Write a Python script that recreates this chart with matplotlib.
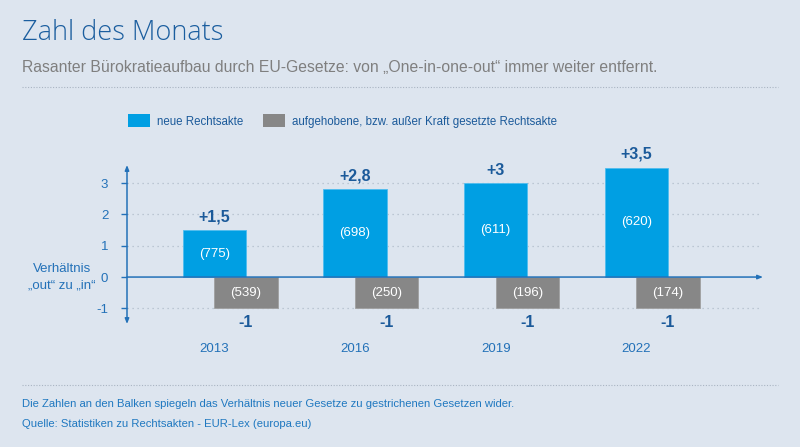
import matplotlib
matplotlib.use("Agg")
import matplotlib.pyplot as plt
from matplotlib.patches import Patch
from matplotlib.lines import Line2D

years = ["2013", "2016", "2019", "2022"]
ratio = [1.5, 2.8, 3.0, 3.5]
ratio_labels = ["+1,5", "+2,8", "+3", "+3,5"]
new_acts = [775, 698, 611, 620]
removed_val = [-1, -1, -1, -1]
removed_acts = [539, 250, 196, 174]
yticks = [-1, 0, 1, 2, 3]

BG = "#dde5ef"
BLUE = "#009fe3"
GRAY = "#878787"
DARK = "#1b5a9a"
MID = "#2371b8"
FONT = ["Liberation Sans", "DejaVu Sans"]
plt.rcParams["font.family"] = FONT

fig = plt.figure(figsize=(8, 4.47), dpi=100, facecolor=BG)
W, H = 800, 447
ax = fig.add_axes([127 / W, 1 - 324 / H, (763 - 127) / W, (324 - 165) / H])
ax.set_facecolor(BG)
x0, x1 = -0.62, 3.90
y0, y1 = -1.5, 3.58
ax.set_xlim(x0, x1)
ax.set_ylim(y0, y1)

bw = 0.45
xs = list(range(len(years)))
xg = [x + bw / 2 for x in xs]

for y in [-1, 1, 2, 3]:
    ax.plot([x0, 3.88], [y, y], ls=(0, (1, 3)), color="#b0bccb", lw=0.9, zorder=0)

b1 = ax.bar(xs, ratio, width=bw, color=BLUE, zorder=2, edgecolor="#4fbdef", linewidth=0.6)
b2 = ax.bar(xg, removed_val, width=bw, color=GRAY, zorder=2, edgecolor="#a0a0a0", linewidth=0.6)

for x, v, lab, n in zip(xs, ratio, ratio_labels, new_acts):
    ax.text(x, v + 0.18, lab, ha="center", va="bottom", color=DARK,
            fontsize=11.5, fontweight="bold")
    ax.text(x, v / 2, f"({n})", ha="center", va="center", color="white", fontsize=9.5)
for x, v, n in zip(xg, removed_val, removed_acts):
    ax.text(x, v / 2, f"({n})", ha="center", va="center", color="white", fontsize=9.5)
    ax.text(x, -1.46, "-1", ha="center", va="center", color=DARK,
            fontsize=11.5, fontweight="bold")

for x, yr in zip(xs, years):
    ax.text(x, -2.3, yr, ha="center", va="center", color=MID, fontsize=9.5)

for s in ax.spines.values():
    s.set_visible(False)
ax.set_xticks([])
ax.set_yticks(yticks)
ax.set_yticklabels([str(t) for t in yticks])
ax.tick_params(axis="y", colors=MID, length=4.5, width=1, pad=9, labelsize=9.5)
for t in ax.get_yticklabels():
    t.set_color(MID)

ax.annotate("", xy=(x0, y1), xytext=(x0, y0),
            arrowprops=dict(arrowstyle="<|-|>,head_length=0.3,head_width=0.12",
                            color=MID, lw=1.1, shrinkA=0, shrinkB=0), annotation_clip=False)
ax.annotate("", xy=(x1, 0), xytext=(x0, 0),
            arrowprops=dict(arrowstyle="-|>,head_length=0.3,head_width=0.12",
                            color=MID, lw=1.1, shrinkA=0, shrinkB=0), annotation_clip=False, zorder=3)

fig.text(62 / W, 1 - 269 / H, "Verhältnis", ha="center", va="center", color=MID, fontsize=9.5)
fig.text(62 / W, 1 - 285 / H, "„out“ zu „in“", ha="center", va="center", color=MID, fontsize=9.5)

# legend
handles = [Patch(facecolor=BLUE), Patch(facecolor=GRAY)]
leg = fig.legend(handles, ["neue Rechtsakte", "aufgehobene, bzw. außer Kraft gesetzte Rechtsakte"],
                 loc="center left", bbox_to_anchor=(118 / W, 1 - 121 / H), ncol=2, frameon=False,
                 handlelength=1.9, handleheight=1.3, handletextpad=0.6, columnspacing=1.7,
                 fontsize=8.3)
for t in leg.get_texts():
    t.set_color(DARK)

# header
fig.text(22 / W, 1 - 33 / H, "Zahl des Monats", ha="left", va="center", color="#1b5e9f",
         fontsize=19.5, family=["Open Sans", "DejaVu Sans"], fontweight="light")
fig.text(22 / W, 1 - 68 / H,
         "Rasanter Bürokratieaufbau durch EU-Gesetze: von „One-in-one-out“ immer weiter entfernt.",
         ha="left", va="center", color="#7f7f7f", fontsize=11.3)
fig.add_artist(Line2D([22 / W, 778 / W], [1 - 87 / H, 1 - 87 / H], transform=fig.transFigure,
                      ls=(0, (1, 1.5)), color="#a9b4c2", lw=0.8))
fig.add_artist(Line2D([22 / W, 778 / W], [1 - 385 / H, 1 - 385 / H], transform=fig.transFigure,
                      ls=(0, (1, 1.5)), color="#a9b4c2", lw=0.8))

fig.text(22 / W, 1 - 404 / H,
         "Die Zahlen an den Balken spiegeln das Verhältnis neuer Gesetze zu gestrichenen Gesetzen wider.",
         ha="left", va="center", color="#1f78c0", fontsize=8.1)
fig.text(22 / W, 1 - 424 / H, "Quelle: Statistiken zu Rechtsakten - EUR-Lex (europa.eu)",
         ha="left", va="center", color="#1f78c0", fontsize=8.1)

fig.savefig("out.png", dpi=100, facecolor=BG)
